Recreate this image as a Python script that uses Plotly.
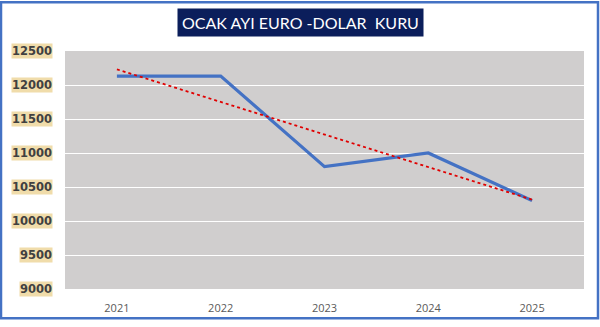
import numpy as np
import plotly.graph_objects as go

years = ["2021", "2022", "2023", "2024", "2025"]
rates = [12130, 12130, 10800, 11000, 10300]
y_ticks = [9000, 9500, 10000, 10500, 11000, 11500, 12000, 12500]
title_text = "OCAK AYI EURO -DOLAR  KURU"

idx = np.arange(len(years))
slope, intercept = np.polyfit(idx, rates, 1)
trend = slope * idx + intercept

W, H = 600, 327
ml, mr, mt, mb = 65, 16, 51, 32
pw, ph = W - ml - mr, H - mt - mb

fig = go.Figure()
fig.add_trace(go.Scatter(x=years, y=rates, mode="lines",
                         line=dict(color="#4472C4", width=3.2), showlegend=False))
fig.add_trace(go.Scatter(x=years, y=trend, mode="lines",
                         line=dict(color="#E00000", width=1.8, dash="dot"), showlegend=False))

for v in y_ticks:
    fig.add_annotation(x=0, xref="paper", xanchor="right", xshift=-12,
                       y=v, yref="y", yanchor="middle", showarrow=False,
                       text=f"<b>{v}</b>", font=dict(family="DejaVu Sans", size=11.5, color="#404040"),
                       bgcolor="#F0DCAA", borderpad=0)

fig.add_annotation(x=(300 - ml) / pw, xref="paper", y=1 + 29 / ph, yref="paper", showarrow=False,
                   xanchor="center", yanchor="middle", text=title_text,
                   font=dict(family="Lato", size=16, color="white"),
                   bgcolor="#0B1E5B", borderpad=4)

fig.add_shape(type="rect", xref="paper", yref="paper",
              x0=-(ml - 1) / pw, x1=1 + (mr - 2) / pw,
              y0=-(mb - 2) / ph, y1=1 + (mt - 1) / ph,
              line=dict(color="#4472C4", width=2.5), layer="above")

fig.update_xaxes(type="category", range=[-0.5, len(years) - 0.5], showgrid=False,
                 zeroline=False, showline=False,
                 tickfont=dict(family="Open Sans", size=11, color="#595959"),
                 ticks="outside", ticklen=9, tickcolor="rgba(0,0,0,0)")
fig.update_yaxes(range=[9000, 12500], tickvals=y_ticks, showticklabels=False,
                 gridcolor="white", gridwidth=1, zeroline=False, showline=False)

fig.update_layout(width=W, height=H, margin=dict(l=ml, r=mr, t=mt, b=mb),
                  plot_bgcolor="#D0CECE", paper_bgcolor="white")

fig.write_html("out.html")
